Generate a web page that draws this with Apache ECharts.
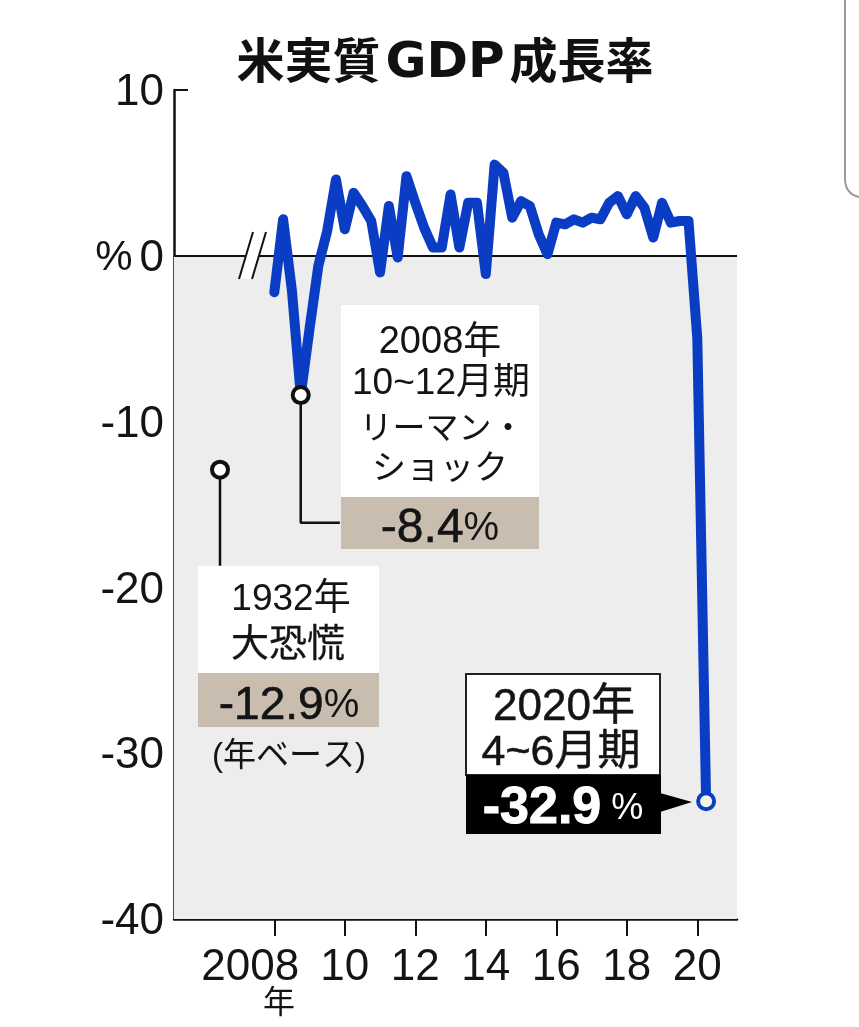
<!DOCTYPE html>
<html><head><meta charset="utf-8">
<script src="https://cdn.jsdelivr.net/npm/echarts@6/dist/echarts.min.js"></script>
<style>html,body{margin:0;padding:0;background:#fff}#c{width:859px;height:1027px}</style>
</head><body><div id="c"></div>
<script>
const years = [2008,2009,2010,2011,2012,2013,2014,2015,2016,2017,2018,2019,2020];
const gdp2008 = [-2.2,2.2,-2.1,-8.4];
const gdp2009 = [-4.4,-0.6,1.5,4.6];
const gdp2010 = [1.6,3.8,3.0,2.1];
const gdp2011 = [-1.0,3.0,-0.1,4.8];
const gdp2012 = [3.2,1.7,0.5,0.5];
const gdp2013 = [3.7,0.5,3.2,3.2];
const gdp2014 = [-1.1,5.5,5.0,2.3];
const gdp2015 = [3.3,3.0,1.3,0.1];
const gdp2016 = [2.0,1.9,2.2,2.0];
const gdp2017 = [2.3,2.2,3.2,3.6];
const gdp2018 = [2.5,3.6,2.9,1.1];
const gdp2019 = [3.2,2.0,2.1,2.1];
const gdp2020 = [-5.0,-32.9];
const allQuarters = [gdp2008,gdp2009,gdp2010,gdp2011,gdp2012,gdp2013,gdp2014,gdp2015,gdp2016,gdp2017,gdp2018,gdp2019,gdp2020];
const xTicks = [2008,2010,2012,2014,2016,2018,2020];
const lehmanX = 2008.75, lehmanValue = -8.4;
const depressionX = 2006.46, depressionValue = -12.9;
const latestX = 2020.25, latestValue = -32.9;

const lineData = [];
allQuarters.forEach((vals,i)=>vals.forEach((v,q)=>lineData.push([years[i]+q/4,v])));

const LAT='"Liberation Sans","Noto Sans CJK JP",sans-serif';
const INK='#141414';
function txt(x,y,text,size,extra){
  return {type:'text',z:50,style:Object.assign({x:x,y:y,text:text,fontFamily:LAT,fontSize:size,fill:INK,align:'center',verticalAlign:'middle'},extra||{})};
}
function rich2(x,y,a,b,sa,sb,col,wa,sw){
  return {type:'text',z:50,style:{x:x,y:y,text:'{a|'+a+'}{b|'+b+'}',align:'center',verticalAlign:'middle',
    rich:{a:{fontFamily:LAT,fontSize:sa,fill:col,fontWeight:wa||'normal',stroke:col,lineWidth:sw||0},b:{fontFamily:LAT,fontSize:sb,fill:col}}}};
}
function box(x,y,w,h,fill,stroke){
  return {type:'rect',z:40,shape:{x:x,y:y,width:w,height:h},style:{fill:fill,stroke:stroke||null,lineWidth:stroke?2:0}};
}
const medium={stroke:INK,lineWidth:0.5};
const graphics=[
  {type:'polygon',z:30,shape:{points:[[239,279],[253,232],[266,232],[252,279]]},style:{fill:'#fff'}},
  {type:'line',z:31,shape:{x1:239,y1:279,x2:253,y2:232},style:{stroke:'#111',lineWidth:2}},
  {type:'line',z:31,shape:{x1:252,y1:279,x2:266,y2:232},style:{stroke:'#111',lineWidth:2}},
  box(341,305,198,192,'#fff'),
  box(341,497,198,52,'#c9bdb0'),
  txt(440,343,'2008年',38),
  txt(441,384,'10~12月期',37),
  txt(442,430,'リーマン・',33),
  txt(440,470,'ショック',34),
  rich2(440,529,'-8.4','%',48,40,INK,'normal',0.6),
  box(198,566,181,107,'#fff'),
  box(198,673,181,54,'#c9bdb0'),
  txt(291,600,'1932年',37),
  txt(288,646,'大恐慌',38,{stroke:INK,lineWidth:0.3}),
  rich2(289,706,'-12.9','%',46,40,INK,'normal',0.6),
  txt(289,757,'(年ベース)',33),
  box(466,674,194,101,'#fff','#222'),
  box(466,775,195,59,'#000'),
  {type:'polygon',z:41,shape:{points:[[660,793],[692,802],[660,812]]},style:{fill:'#000'}},
  txt(564,708,'2020年',44,medium),
  txt(561,753,'4~6月期',43,medium),
  rich2(563,809,'-32.9',' %',52,36,'#fff','bold',1),
  txt(279,1004,'年',32),
  {type:'line',z:60,shape:{x1:845,y1:0,x2:845,y2:178},style:{stroke:'#9a9a9a',lineWidth:2}},
  {type:'bezierCurve',z:60,shape:{x1:845,y1:178,x2:859,y2:197,cpx1:845,cpy1:194},style:{fill:'none',stroke:'#9a9a9a',lineWidth:2}}
];

const chart=echarts.init(document.getElementById('c'),null,{renderer:'canvas'});
chart.setOption({
  animation:false,
  backgroundColor:'#fff',
  title:{text:'{a|米実質}{b|GDP}{a|成長率}',left:440,top:25,textAlign:'center',textStyle:{
    rich:{a:{fontFamily:'"Noto Sans CJK JP"',fontSize:48,fontWeight:'bold',color:'#111'},
          b:{fontFamily:'"DejaVu Sans"',fontSize:50,fontWeight:'bold',color:'#111',padding:[9,5,0,5]}}}},
  grid:{left:174,top:90,width:563,height:829,containLabel:false},
  xAxis:{type:'value',min:2005.155,max:2021.126,splitLine:{show:false},
    axisLine:{onZero:false,lineStyle:{color:'#111',width:2.5}},
    axisTick:{customValues:xTicks,length:17,lineStyle:{color:'#111',width:2}},
    axisLabel:{customValues:xTicks,margin:27,color:INK,fontFamily:'Liberation Sans',fontSize:44,
      formatter:v=>v===2008?'{y|2008}':String(v).slice(2),
      rich:{y:{fontFamily:'Liberation Sans',fontSize:44,color:INK,padding:[0,48,0,0]}}}},
  yAxis:{type:'value',min:-40,max:10,interval:10,splitLine:{show:false},
    axisLine:{onZero:false,lineStyle:{color:'#111',width:2.5}},
    axisTick:{inside:true,length:14,lineStyle:{color:'#111',width:2}},
    axisLabel:{margin:10,color:INK,fontFamily:'Liberation Sans',fontSize:44,padding:[6,0,0,0],
      formatter:v=>v===0?'{p|%}0':String(v),
      rich:{p:{fontFamily:'Liberation Sans',fontSize:42,color:INK,padding:[0,7,0,0]}}}},
  series:[
    {type:'line',name:'米実質GDP成長率',data:lineData,showSymbol:false,symbol:'none',z:5,
     lineStyle:{color:'#0b3cc4',width:10,join:'round',cap:'round'},
     markArea:{silent:true,itemStyle:{color:'#ededed',opacity:1},data:[[{yAxis:0},{yAxis:-40}]]},
     markLine:{silent:true,symbol:'none',label:{show:false},lineStyle:{color:'#111',width:2,type:'solid'},data:[{yAxis:0}]}},
    {type:'line',data:[[lehmanX,lehmanValue],[lehmanX,-16.1],[2009.86,-16.1]],symbol:'none',z:3,lineStyle:{color:'#111',width:2.5}},
    {type:'line',data:[[depressionX,depressionValue],[depressionX,-18.7]],symbol:'none',z:3,lineStyle:{color:'#111',width:2.5}},
    {type:'scatter',data:[[lehmanX,lehmanValue],[depressionX,depressionValue]],symbol:'circle',symbolSize:16,z:8,
     itemStyle:{color:'#fff',borderColor:'#111',borderWidth:4,opacity:1}},
    {type:'scatter',data:[[latestX,latestValue]],symbol:'circle',symbolSize:16,z:8,
     itemStyle:{color:'#f6f6e6',borderColor:'#0b3cc4',borderWidth:4,opacity:1}}
  ],
  graphic:graphics
});
</script></body></html>
